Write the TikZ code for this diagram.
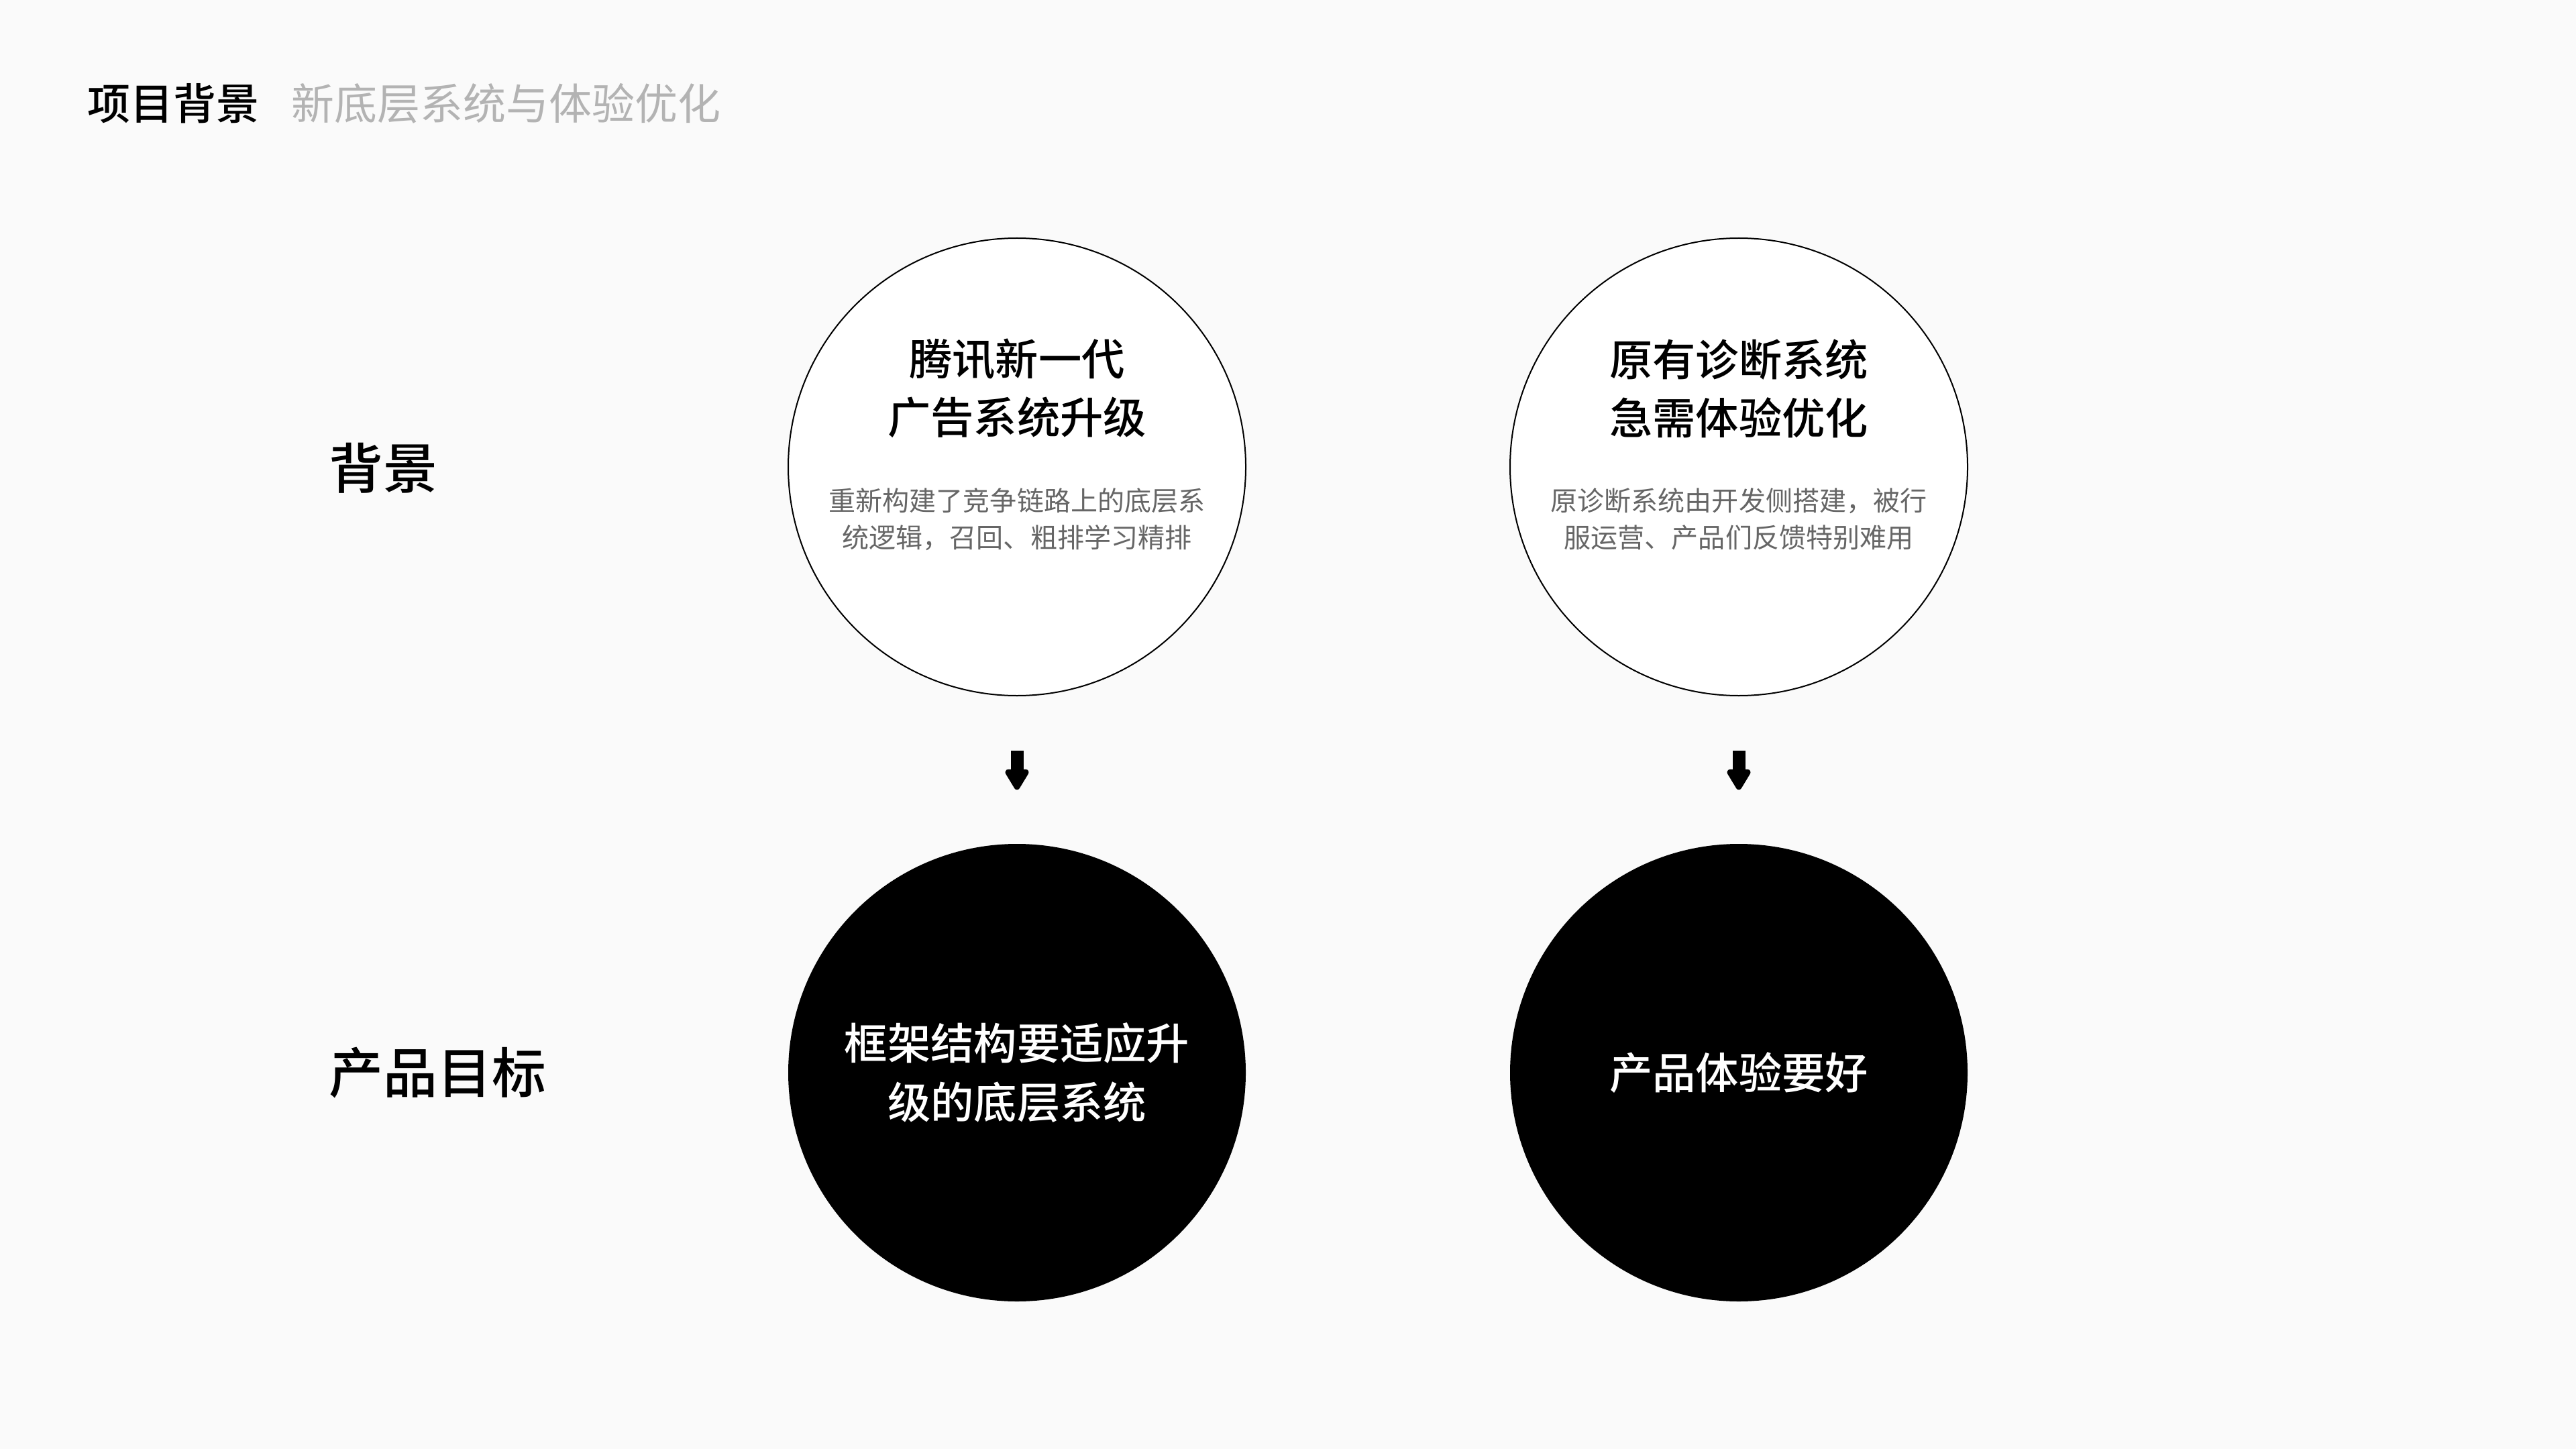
\documentclass[tikz,border=0pt]{standalone}
\usepackage{fontspec}
\setmainfont{Noto Sans CJK SC}
\newfontfamily\medfont{Noto Sans CJK SC Medium}
\usetikzlibrary{arrows.meta,positioning}

\definecolor{pagebg}{HTML}{FAFAFA}
\definecolor{subgray}{HTML}{B3B3B3}
\definecolor{notegray}{HTML}{666666}

\begin{document}
\begin{tikzpicture}[
	bubble/.style={circle, minimum size=6.82cm, inner sep=0pt},
	heading/.style={align=center, font=\fontsize{18.3}{24.8}\selectfont\medfont},
	remark/.style={align=center, text=notegray, font=\fontsize{11.4}{15.6}\selectfont},
	rowlabel/.style={anchor=west, inner sep=0pt, font=\fontsize{23}{28}\selectfont\medfont},
	downarrow/.style={line width=0.19cm, -{Triangle[width=0.39cm, length=0.35cm, round]}, shorten <=0.81cm, shorten >=0.80cm}
]
	\fill[pagebg] (0, 0) rectangle (38.4, -21.6); % фон
	\useasboundingbox (0, 0) rectangle (38.4, -21.6);
	
	\node[anchor=west, inner sep=0pt, font=\fontsize{18.2}{22}\selectfont\medfont] (title) at (1.30, -1.54) {项目背景};
	\node[right=0.47cm of title, inner sep=0pt, text=subgray, font=\fontsize{18.2}{22}\selectfont] (subtitle) {新底层系统与体验优化};
	
	\node[rowlabel] (lbg) at (4.90, -6.98) {背景};
	\node[rowlabel] (lgoal) at (4.90, -15.99) {产品目标};
	
	\node[bubble, draw=black, line width=0.02cm, fill=white] (bg1) at (15.16, -6.96) {};
	\node[bubble, draw=black, line width=0.02cm, fill=white] (bg2) at (25.92, -6.96) {};
	\node[bubble, fill=black, text=white, heading] (goal1) at (15.16, -15.99) {框架结构要适应升\\级的底层系统};
	\node[bubble, fill=black, text=white, heading] (goal2) at (25.92, -15.99) {产品体验要好};
	
	\node[heading] (bg1head) at ([yshift=1.17cm]bg1.center) {腾讯新一代\\广告系统升级};
	\node[remark] (bg1note) at ([yshift=-0.78cm]bg1.center) {重新构建了竞争链路上的底层系\\统逻辑，召回、粗排学习精排};
	\node[heading] (bg2head) at ([yshift=1.17cm]bg2.center) {原有诊断系统\\急需体验优化};
	\node[remark] (bg2note) at ([yshift=-0.78cm]bg2.center) {原诊断系统由开发侧搭建，被行\\服运营、产品们反馈特别难用};
	
	\draw[downarrow] (bg1) -- (goal1);
	\draw[downarrow] (bg2) -- (goal2);
\end{tikzpicture}
\end{document}
